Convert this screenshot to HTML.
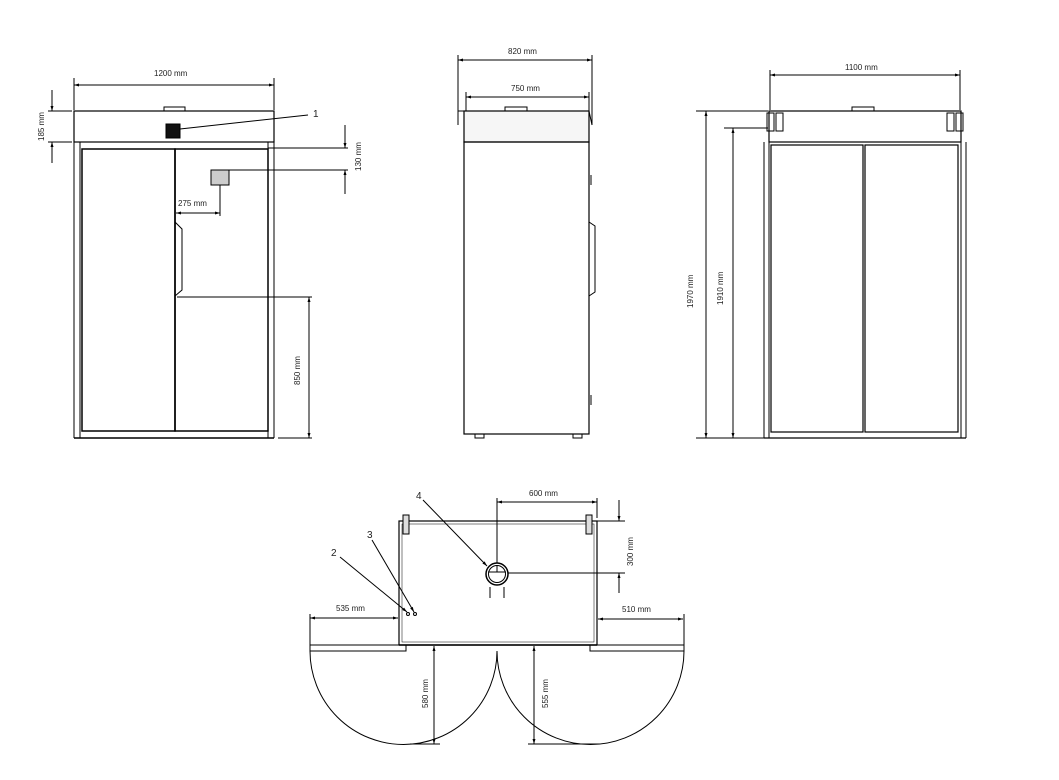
<!DOCTYPE html>
<html><head><style>body{margin:0;background:#fff}svg{display:block}text{font-family:"Liberation Sans",sans-serif;font-size:8px;fill:#222}</style></head>
<body>
<svg width="1059" height="780" viewBox="0 0 1059 780" xmlns="http://www.w3.org/2000/svg">
<defs>
<marker id="a" viewBox="0 0 10 10" refX="10" refY="5" markerWidth="9" markerHeight="5" orient="auto-start-reverse"><path d="M0,2 L10,5 L0,8 z" fill="#000"/></marker>
</defs>
<g stroke="#000" fill="none" stroke-width="1">
<!-- FRONT VIEW -->
<line x1="74" y1="85" x2="274" y2="85" marker-start="url(#a)" marker-end="url(#a)"/>
<line x1="74" y1="78" x2="74" y2="110"/><line x1="274" y1="78" x2="274" y2="110"/>
<rect x="74" y="111" width="200" height="31" stroke-width="1.2"/>
<rect x="164" y="107" width="21" height="4"/>
<rect x="166" y="124" width="14" height="14" fill="#111"/>
<line x1="180" y1="129" x2="308" y2="115"/>
<line x1="74" y1="142" x2="74" y2="438"/><line x1="274" y1="142" x2="274" y2="438"/>
<line x1="80" y1="142" x2="80" y2="438"/><line x1="268" y1="142" x2="268" y2="438"/>
<rect x="82" y="149" width="93" height="282" stroke-width="1.5"/>
<rect x="175" y="149" width="93" height="282" stroke-width="1.5"/>
<line x1="74" y1="438" x2="274" y2="438" stroke-width="1.5"/>
<path d="M175,222 L182,229 L182,290 L175,296"/>
<rect x="211" y="170" width="18" height="15" fill="#ccc"/>
<line x1="229" y1="170" x2="348" y2="170"/>
<line x1="268" y1="148" x2="348" y2="148"/>
<line x1="345" y1="125" x2="345" y2="148" marker-end="url(#a)"/>
<line x1="345" y1="194" x2="345" y2="170" marker-end="url(#a)"/>
<line x1="220" y1="185" x2="220" y2="216"/>
<line x1="176" y1="213" x2="220" y2="213" marker-start="url(#a)" marker-end="url(#a)"/>
<line x1="48" y1="111" x2="72" y2="111"/><line x1="48" y1="142" x2="72" y2="142"/>
<line x1="52" y1="90" x2="52" y2="111" marker-end="url(#a)"/>
<line x1="52" y1="163" x2="52" y2="142" marker-end="url(#a)"/>
<line x1="177" y1="297" x2="312" y2="297"/>
<line x1="278" y1="438" x2="312" y2="438"/>
<line x1="309" y1="297" x2="309" y2="438" marker-start="url(#a)" marker-end="url(#a)"/>
<!-- SIDE VIEW -->
<line x1="458" y1="60" x2="592" y2="60" marker-start="url(#a)" marker-end="url(#a)"/>
<line x1="458" y1="55" x2="458" y2="125"/><line x1="592" y1="55" x2="592" y2="125"/>
<line x1="466" y1="97" x2="589" y2="97" marker-start="url(#a)" marker-end="url(#a)"/>
<line x1="466" y1="92" x2="466" y2="111"/><line x1="589" y1="92" x2="589" y2="111"/>
<rect x="505" y="107" width="22" height="4"/>
<path d="M458,125 L458,111 L589,111 L592,125" />
<rect x="464" y="111" width="125" height="31" fill="#f6f6f6" stroke-width="1.2"/>
<rect x="464" y="142" width="125" height="292" stroke-width="1.2"/>
<rect x="475" y="434" width="9" height="4"/><rect x="573" y="434" width="9" height="4"/>
<path d="M589,222 L595,226 L595,292 L589,296"/>
<line x1="591" y1="175" x2="591" y2="185"/><line x1="591" y1="395" x2="591" y2="405"/>
<!-- BACK VIEW -->
<line x1="770" y1="75" x2="960" y2="75" marker-start="url(#a)" marker-end="url(#a)"/>
<line x1="770" y1="70" x2="770" y2="110"/><line x1="960" y1="70" x2="960" y2="110"/>
<rect x="852" y="107" width="22" height="4"/>
<rect x="769" y="111" width="192" height="31" stroke-width="1.2"/>
<rect x="767" y="113" width="7" height="18"/><rect x="956" y="113" width="7" height="18"/>
<rect x="947" y="113" width="7" height="18"/><rect x="776" y="113" width="7" height="18"/>
<line x1="764" y1="142" x2="764" y2="438"/><line x1="966" y1="142" x2="966" y2="438"/>
<line x1="769" y1="142" x2="769" y2="438"/><line x1="961" y1="142" x2="961" y2="438"/>
<rect x="771" y="145" width="92" height="287" stroke-width="1.2"/>
<rect x="865" y="145" width="93" height="287" stroke-width="1.2"/>
<line x1="764" y1="438" x2="966" y2="438" stroke-width="1.2"/>
<line x1="696" y1="111" x2="768" y2="111"/><line x1="724" y1="128" x2="768" y2="128"/>
<line x1="696" y1="438" x2="764" y2="438"/>
<line x1="706" y1="111" x2="706" y2="438" marker-start="url(#a)" marker-end="url(#a)"/>
<line x1="733" y1="128" x2="733" y2="438" marker-start="url(#a)" marker-end="url(#a)"/>
<!-- PLAN VIEW -->
<rect x="399" y="521" width="198" height="124" stroke-width="1.2"/>
<rect x="402" y="524" width="192" height="118" stroke-width="0.5"/>
<rect x="403" y="515" width="6" height="19" fill="#ddd"/><rect x="586" y="515" width="6" height="19" fill="#ddd"/>
<rect x="310" y="645" width="96" height="6"/><rect x="590" y="645" width="94" height="6"/>
<line x1="399" y1="645" x2="597" y2="645" stroke-width="1.5"/>
<circle cx="497" cy="574" r="11" stroke-width="1.5"/><circle cx="497" cy="574" r="8.5"/>
<line x1="488" y1="572" x2="506" y2="572"/><line x1="497" y1="566" x2="497" y2="572"/>
<line x1="490" y1="587" x2="490" y2="598"/><line x1="504" y1="587" x2="504" y2="598"/>
<circle cx="408" cy="614" r="1.5"/><circle cx="415" cy="614" r="1.5"/>
<line x1="340" y1="557" x2="407" y2="612" marker-end="url(#a)"/>
<line x1="372" y1="540" x2="414" y2="612" marker-end="url(#a)"/>
<line x1="423" y1="500" x2="487" y2="566" marker-end="url(#a)"/>
<line x1="497" y1="498" x2="497" y2="563"/><line x1="597" y1="498" x2="597" y2="518"/>
<line x1="497" y1="502" x2="597" y2="502" marker-start="url(#a)" marker-end="url(#a)"/>
<line x1="597" y1="521" x2="625" y2="521"/><line x1="508" y1="573" x2="625" y2="573"/>
<line x1="619" y1="500" x2="619" y2="521" marker-end="url(#a)"/>
<line x1="619" y1="593" x2="619" y2="573" marker-end="url(#a)"/>
<line x1="310" y1="614" x2="310" y2="648"/>
<line x1="310" y1="618" x2="398" y2="618" marker-start="url(#a)" marker-end="url(#a)"/>
<line x1="684" y1="614" x2="684" y2="648"/>
<line x1="598" y1="619" x2="683" y2="619" marker-start="url(#a)" marker-end="url(#a)"/>
<path d="M310,651 A93.5,93.5 0 0 0 497,651"/>
<path d="M497,651 A93.5,93.5 0 0 0 684,651"/>
<line x1="434" y1="646" x2="434" y2="744" marker-start="url(#a)" marker-end="url(#a)"/>
<line x1="410" y1="744" x2="440" y2="744"/>
<line x1="534" y1="646" x2="534" y2="744" marker-start="url(#a)" marker-end="url(#a)"/>
<line x1="528" y1="744" x2="600" y2="744"/>
</g>
<text x="154" y="76">1200 mm</text>
<text x="313" y="117" style="font-size:10px">1</text>
<text x="178" y="206">275 mm</text>
<text transform="translate(44,141) rotate(-90)">185 mm</text>
<text transform="translate(361,171) rotate(-90)">130 mm</text>
<text transform="translate(300,385) rotate(-90)">850 mm</text>
<text x="508" y="54">820 mm</text>
<text x="511" y="91">750 mm</text>
<text x="845" y="70">1100 mm</text>
<text transform="translate(693,308) rotate(-90)">1970 mm</text>
<text transform="translate(723,305) rotate(-90)">1910 mm</text>
<text x="529" y="496">600 mm</text>
<text transform="translate(633,566) rotate(-90)">300 mm</text>
<text x="336" y="611">535 mm</text>
<text x="622" y="612">510 mm</text>
<text transform="translate(428,708) rotate(-90)">580 mm</text>
<text transform="translate(548,708) rotate(-90)">555 mm</text>
<text x="416" y="499" style="font-size:10px">4</text>
<text x="367" y="538" style="font-size:10px">3</text>
<text x="331" y="556" style="font-size:10px">2</text>
</svg>
</body></html>
